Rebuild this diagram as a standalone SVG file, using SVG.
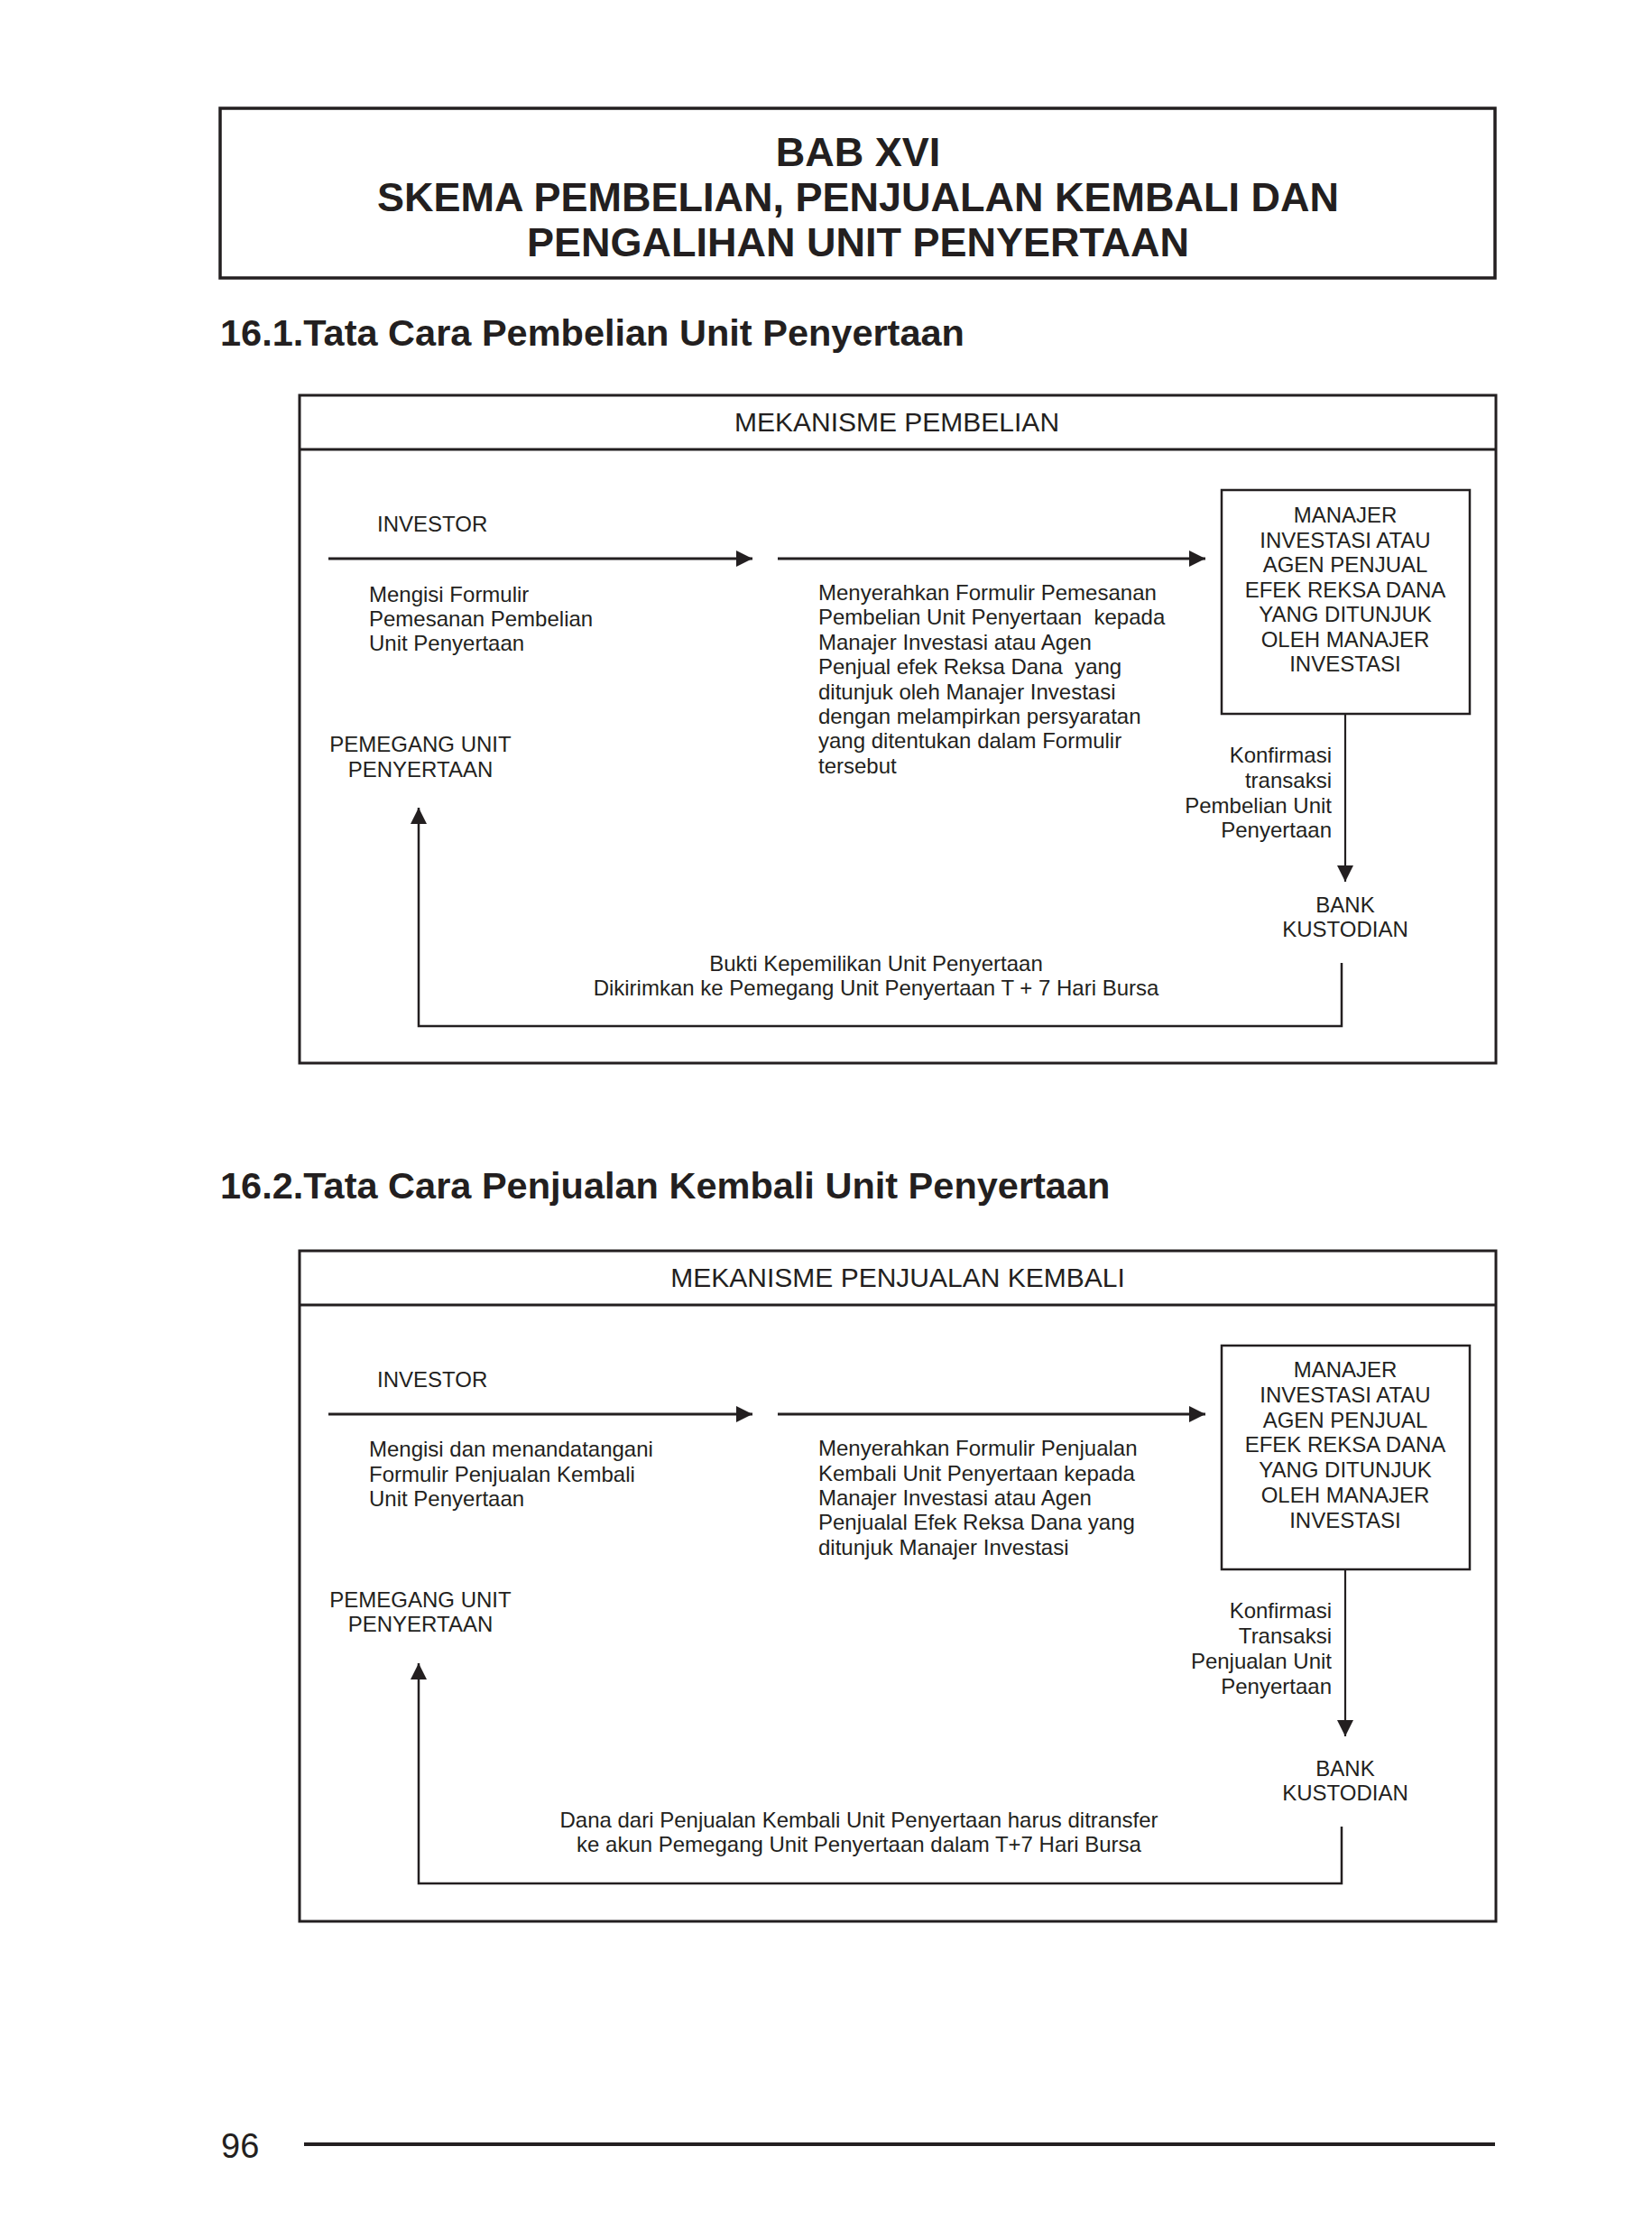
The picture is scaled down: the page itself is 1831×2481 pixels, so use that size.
<svg xmlns="http://www.w3.org/2000/svg" width="1831" height="2481" viewBox="0 0 1831 2481">
<style>
text{font-family:"Liberation Sans",Arial,Helvetica,sans-serif;fill:#231f20}
.t{font-size:24px}
.m{text-anchor:middle}
.e{text-anchor:end}
.pre{white-space:pre}
.h1{font-size:45px;font-weight:bold;text-anchor:middle}
.h2{font-size:41.5px;font-weight:bold}
.cap{font-size:30px;text-anchor:middle}
.frame{fill:none;stroke:#231f20;stroke-width:3}
.box{fill:none;stroke:#231f20;stroke-width:2.5}
.arr{fill:none;stroke:#231f20;stroke-width:3;marker-end:url(#ah)}
</style>
<defs>
<marker id="ah" viewBox="0 0 18 18" refX="18" refY="9" markerWidth="19" markerHeight="18" markerUnits="userSpaceOnUse" orient="auto">
<path d="M0,0 L18,9 L0,18 z" fill="#231f20"/>
</marker>
</defs>
<rect width="1831" height="2481" fill="#ffffff"/>

<g id="page-header">
<rect x="244" y="120" width="1413" height="188" fill="none" stroke="#231f20" stroke-width="3.5"/>
<text class="h1" x="951" y="184">BAB XVI</text>
<text class="h1" x="951" y="234">SKEMA PEMBELIAN, PENJUALAN KEMBALI DAN</text>
<text class="h1" x="951" y="284">PENGALIHAN UNIT PENYERTAAN</text>
</g>

<text class="h2" x="244" y="383">16.1.Tata Cara Pembelian Unit Penyertaan</text>

<g id="frame-pembelian">
<rect class="frame" x="332" y="438" width="1326" height="740"/>
<line class="frame" x1="332" y1="498" x2="1658" y2="498"/>
<text class="cap" x="994" y="478">MEKANISME PEMBELIAN</text>
</g>

<g id="investor-1">
<text class="t" x="418" y="589">INVESTOR</text>
</g>
<g id="step1-1">
<text class="t" x="409" y="667">Mengisi Formulir</text>
<text class="t" x="409" y="694">Pemesanan Pembelian</text>
<text class="t" x="409" y="721">Unit Penyertaan</text>
</g>
<g id="step2-1">
<text class="t" x="907" y="665">Menyerahkan Formulir Pemesanan</text>
<text class="t pre" x="907" y="692">Pembelian Unit Penyertaan  kepada</text>
<text class="t" x="907" y="720">Manajer Investasi atau Agen</text>
<text class="t pre" x="907" y="747">Penjual efek Reksa Dana  yang</text>
<text class="t" x="907" y="775">ditunjuk oleh Manajer Investasi</text>
<text class="t" x="907" y="802">dengan melampirkan persyaratan</text>
<text class="t" x="907" y="829">yang ditentukan dalam Formulir</text>
<text class="t" x="907" y="857">tersebut</text>
</g>
<g id="manajer-1">
<rect class="box" x="1354" y="543" width="275" height="248"/>
<text class="t m" x="1491" y="579">MANAJER</text>
<text class="t m" x="1491" y="607">INVESTASI ATAU</text>
<text class="t m" x="1491" y="634">AGEN PENJUAL</text>
<text class="t m" x="1491" y="662">EFEK REKSA DANA</text>
<text class="t m" x="1491" y="689">YANG DITUNJUK</text>
<text class="t m" x="1491" y="717">OLEH MANAJER</text>
<text class="t m" x="1491" y="744">INVESTASI</text>
</g>
<g id="konfirmasi-1">
<text class="t e" x="1476" y="845">Konfirmasi</text>
<text class="t e" x="1476" y="873">transaksi</text>
<text class="t e" x="1476" y="901">Pembelian Unit</text>
<text class="t e" x="1476" y="928">Penyertaan</text>
</g>
<g id="bank-1">
<text class="t m" x="1491" y="1011">BANK</text>
<text class="t m" x="1491" y="1038">KUSTODIAN</text>
</g>
<g id="pemegang-1">
<text class="t m" x="466" y="833">PEMEGANG UNIT</text>
<text class="t m" x="466" y="861">PENYERTAAN</text>
</g>
<g id="bukti-1">
<text class="t m" x="971" y="1076">Bukti Kepemilikan Unit Penyertaan</text>
<text class="t m" x="971" y="1103">Dikirimkan ke Pemegang Unit Penyertaan T + 7 Hari Bursa</text>
</g>

<text class="h2" x="244" y="1328">16.2.Tata Cara Penjualan Kembali Unit Penyertaan</text>

<g id="frame-penjualan">
<rect class="frame" x="332" y="1386" width="1326" height="743"/>
<line class="frame" x1="332" y1="1446" x2="1658" y2="1446"/>
<text class="cap" x="995" y="1426">MEKANISME PENJUALAN KEMBALI</text>
</g>

<g id="investor-2">
<text class="t" x="418" y="1537">INVESTOR</text>
</g>
<g id="step1-2">
<text class="t" x="409" y="1614">Mengisi dan menandatangani</text>
<text class="t" x="409" y="1642">Formulir Penjualan Kembali</text>
<text class="t" x="409" y="1669">Unit Penyertaan</text>
</g>
<g id="step2-2">
<text class="t" x="907" y="1613">Menyerahkan Formulir Penjualan</text>
<text class="t" x="907" y="1641">Kembali Unit Penyertaan kepada</text>
<text class="t" x="907" y="1668">Manajer Investasi atau Agen</text>
<text class="t" x="907" y="1695">Penjualal Efek Reksa Dana yang</text>
<text class="t" x="907" y="1723">ditunjuk Manajer Investasi</text>
</g>
<g id="manajer-2">
<rect class="box" x="1354" y="1491" width="275" height="248"/>
<text class="t m" x="1491" y="1526">MANAJER</text>
<text class="t m" x="1491" y="1554">INVESTASI ATAU</text>
<text class="t m" x="1491" y="1582">AGEN PENJUAL</text>
<text class="t m" x="1491" y="1609">EFEK REKSA DANA</text>
<text class="t m" x="1491" y="1637">YANG DITUNJUK</text>
<text class="t m" x="1491" y="1665">OLEH MANAJER</text>
<text class="t m" x="1491" y="1693">INVESTASI</text>
</g>
<g id="konfirmasi-2">
<text class="t e" x="1476" y="1793">Konfirmasi</text>
<text class="t e" x="1476" y="1821">Transaksi</text>
<text class="t e" x="1476" y="1849">Penjualan Unit</text>
<text class="t e" x="1476" y="1877">Penyertaan</text>
</g>
<g id="bank-2">
<text class="t m" x="1491" y="1968">BANK</text>
<text class="t m" x="1491" y="1995">KUSTODIAN</text>
</g>
<g id="pemegang-2">
<text class="t m" x="466" y="1781">PEMEGANG UNIT</text>
<text class="t m" x="466" y="1808">PENYERTAAN</text>
</g>
<g id="dana-2">
<text class="t m" x="952" y="2025">Dana dari Penjualan Kembali Unit Penyertaan harus ditransfer</text>
<text class="t m" x="952" y="2052">ke akun Pemegang Unit Penyertaan dalam T+7 Hari Bursa</text>
</g>

<g id="connectors">
<line class="arr" x1="364" y1="619" x2="834" y2="619"/>
<line class="arr" x1="862" y1="619" x2="1336" y2="619"/>
<line class="arr" x1="1491" y1="791" x2="1491" y2="977" style="stroke-width:2.2"/>
<path class="arr" d="M1487,1067 V1137 H464 V895" style="stroke-width:2.5"/>

<line class="arr" x1="364" y1="1567" x2="834" y2="1567"/>
<line class="arr" x1="862" y1="1567" x2="1336" y2="1567"/>
<line class="arr" x1="1491" y1="1739" x2="1491" y2="1924" style="stroke-width:2.2"/>
<path class="arr" d="M1487,2024 V2087 H464 V1843" style="stroke-width:2.5"/>
</g>

<g id="footer">
<text x="245" y="2391" style="font-size:38px">96</text>
<line x1="337" y1="2376" x2="1657" y2="2376" stroke="#231f20" stroke-width="4"/>
</g>
</svg>
